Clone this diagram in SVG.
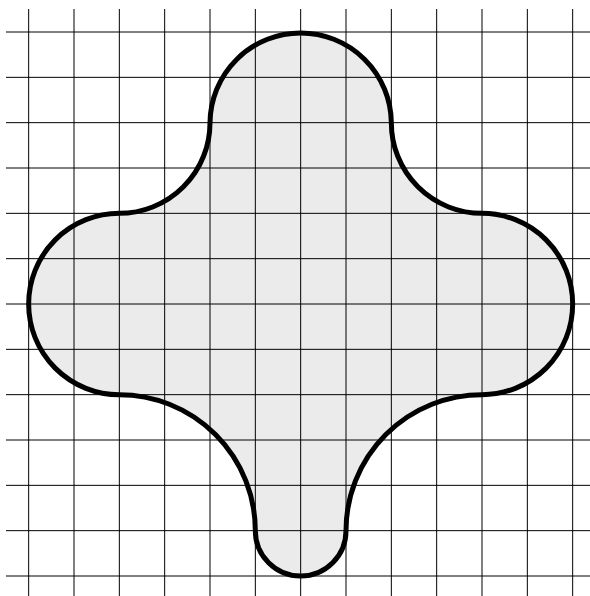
<svg xmlns="http://www.w3.org/2000/svg" xmlns:xlink="http://www.w3.org/1999/xlink" width="590" height="596" viewBox="0 0 590 596">
  <style>
    .grid line { stroke: #000; stroke-width: 1; }
    .fill { fill: #ebebeb; stroke: none; }
    .outline { fill: none; stroke: #000; stroke-width: 5; stroke-linejoin: round; }
  </style>
  <defs>
    <path id="blob" d="M 210,122.67 A 90.67 90.67 0 0 1 391.33,122.67 A 90.67 90.67 0 0 0 482,213.33 A 90.67 90.67 0 0 1 482,394.67 A 136 136 0 0 0 346,530.67 A 45.33 45.33 0 0 1 255.33,530.67 A 136 136 0 0 0 119.33,394.67 A 90.67 90.67 0 0 1 119.33,213.33 A 90.67 90.67 0 0 0 210,122.67 Z"/>
  </defs>
  <rect width="590" height="596" fill="#fff"/>
  <g id="shape-fill"><use xlink:href="#blob" href="#blob" class="fill"/></g>
  <g id="grid" class="grid">
    <line x1="28.67" y1="9" x2="28.67" y2="596"/>
    <line x1="74" y1="9" x2="74" y2="596"/>
    <line x1="119.33" y1="9" x2="119.33" y2="596"/>
    <line x1="164.67" y1="9" x2="164.67" y2="596"/>
    <line x1="210" y1="9" x2="210" y2="596"/>
    <line x1="255.33" y1="9" x2="255.33" y2="596"/>
    <line x1="300.67" y1="9" x2="300.67" y2="596"/>
    <line x1="346" y1="9" x2="346" y2="596"/>
    <line x1="391.33" y1="9" x2="391.33" y2="596"/>
    <line x1="436.67" y1="9" x2="436.67" y2="596"/>
    <line x1="482" y1="9" x2="482" y2="596"/>
    <line x1="527.33" y1="9" x2="527.33" y2="596"/>
    <line x1="572.67" y1="9" x2="572.67" y2="596"/>
    <line x1="6" y1="32" x2="590" y2="32"/>
    <line x1="6" y1="77.33" x2="590" y2="77.33"/>
    <line x1="6" y1="122.67" x2="590" y2="122.67"/>
    <line x1="6" y1="168" x2="590" y2="168"/>
    <line x1="6" y1="213.33" x2="590" y2="213.33"/>
    <line x1="6" y1="258.67" x2="590" y2="258.67"/>
    <line x1="6" y1="304" x2="590" y2="304"/>
    <line x1="6" y1="349.33" x2="590" y2="349.33"/>
    <line x1="6" y1="394.67" x2="590" y2="394.67"/>
    <line x1="6" y1="440" x2="590" y2="440"/>
    <line x1="6" y1="485.33" x2="590" y2="485.33"/>
    <line x1="6" y1="530.67" x2="590" y2="530.67"/>
    <line x1="6" y1="576" x2="590" y2="576"/>
  </g>
  <g id="shape-outline"><use xlink:href="#blob" href="#blob" class="outline"/></g>
</svg>
